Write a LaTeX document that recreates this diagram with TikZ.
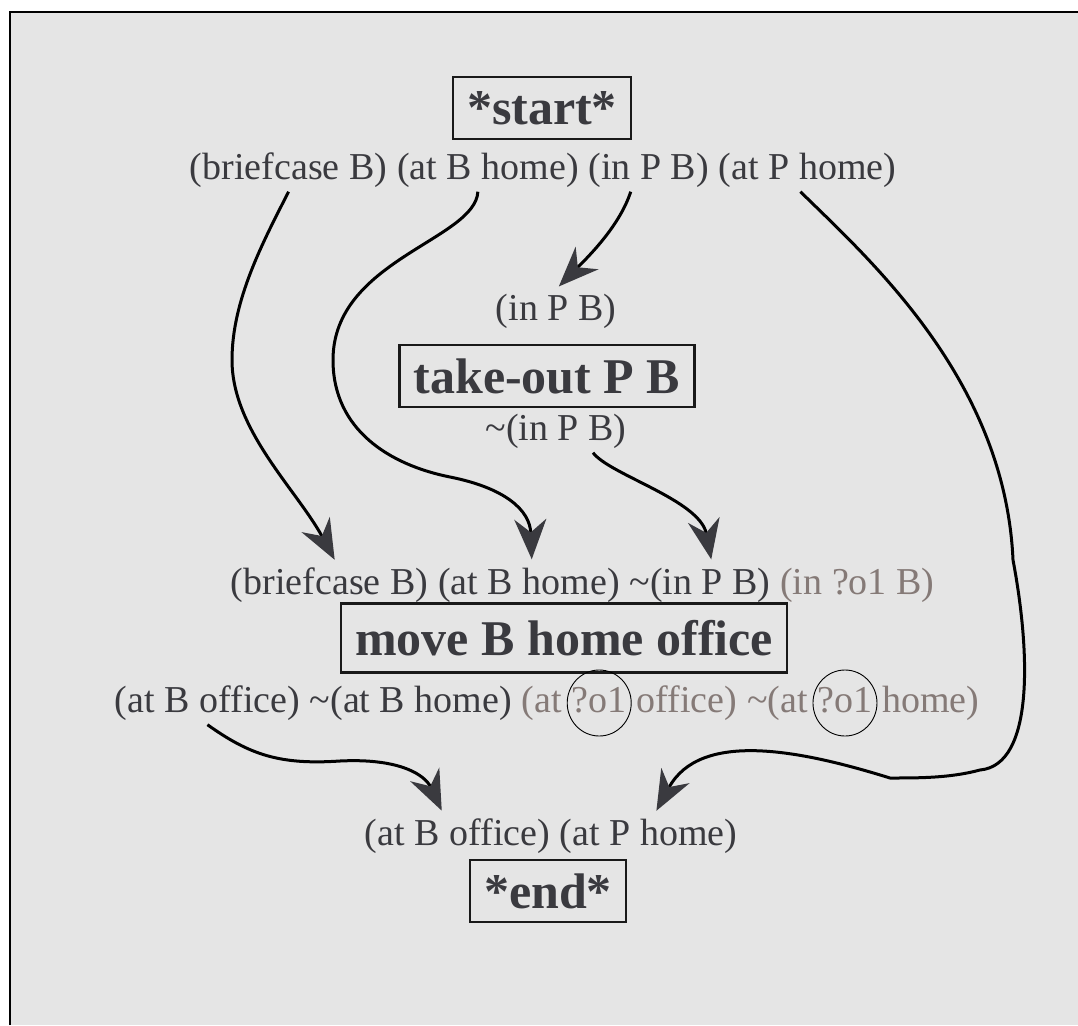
\documentclass[tikz,border=0pt]{standalone}
\usepackage{fontspec}
\setmainfont{Liberation Serif}
\usetikzlibrary{arrows.meta, shapes.geometric, positioning}
\definecolor{paper}{HTML}{E5E5E5}
\definecolor{ink}{HTML}{3A3A3F}
\definecolor{varink}{HTML}{857A77}
\newcommand{\factfont}{\fontsize{38}{44}\selectfont}
\newcommand{\opfont}{\fontsize{50}{58}\selectfont\bfseries}
\tikzset{
    fact/.style={font=\factfont, text=ink, inner xsep=4.75pt, inner ysep=4pt, text height=27pt, text depth=8pt},
    varfact/.style={fact, text=varink},
    opBox/.style={draw=black!90, line width=2.5pt, font=\opfont, text=ink, inner xsep=14pt, inner ysep=0pt, minimum height=62pt},
    ring/.style={ellipse, draw=black, line width=0.9pt, inner sep=0pt, minimum width=64pt, minimum height=66pt},
    link/.style={-{Stealth[length=40pt, width=32pt, inset=13pt, color=ink]}, line width=3pt, shorten >=4pt},
}

\begin{document}
\begin{tikzpicture}[x=1pt, y=-1pt]
    \useasboundingbox (0,0) rectangle (1078,1025);
    \fill[paper] (10,12) rectangle (1078,1025);
    \draw[line width=2pt] (10,1025) -- (10,12) -- (1078,12);

    % start
    \node[opBox] (start) at (542,108) {*start*};
    \node[fact, anchor=west] (s1) at (185,170) {(briefcase B)};
    \node[fact, right=0pt of s1] (s2) {(at B home)};
    \node[fact, right=0pt of s2] (s3) {(in P B)};
    \node[fact, right=0pt of s3] (s4) {(at P home)};

    % take-out P B
    \node[fact] (tpre) at (556,311) {(in P B)};
    \node[opBox] (take) at (547,376) {take-out P B};
    \node[fact] (tpost) at (556,431) {\textasciitilde(in P B)};

    % move B home office
    \node[fact, anchor=west] (m1) at (226,585) {(briefcase B)};
    \node[fact, right=0pt of m1] (m2) {(at B home)};
    \node[fact, right=0pt of m2] (m3) {\textasciitilde(in P B)};
    \node[varfact, right=0pt of m3] (m4) {(in ?o1 B)};
    \node[opBox, minimum height=69pt] (move) at (564,638) {move B home office};
    \node[fact, anchor=west] (e1) at (110,703) {(at B office)};
    \node[fact, right=0pt of e1] (e2) {\textasciitilde(at B home)};
    \node[varfact, right=0pt of e2] (e3) {(at};
    \node[varfact, right=0pt of e3] (o1) {?o1};
    \node[varfact, right=0pt of o1] (e4) {office)};
    \node[varfact, right=0pt of e4] (e5) {\textasciitilde(at};
    \node[varfact, right=0pt of e5] (o2) {?o1};
    \node[varfact, right=0pt of o2] (e6) {home)};
    \node[ring] (r1) at (o1) {};
    \node[ring] (r2) at (o2) {};

    % end
    \node[fact, anchor=west] (f1) at (360,836) {(at B office)};
    \node[fact, right=0pt of f1] (f2) {(at P home)};
    \node[opBox] (finish) at (548,891) {*end*};

    % links
    \draw[link] (s1.south) .. controls (263,242) and (232,300) .. (232,360)
        .. controls (232,430) and (297,490) .. ([xshift=7pt]m1.north);
    \draw[link] ([xshift=-10pt]s2.south) .. controls (475,240) and (333,260) .. (333,360)
        .. controls (333,430) and (390,465) .. (450,477)
        .. controls (505,488) and (530,510) .. ([xshift=3pt]m2.north);
    \draw[link] ([xshift=-18pt]s3.south) .. controls (620,225) and (590,255) .. (tpre.north);
    \draw[link] ([xshift=-7pt]s4.south) .. controls (870,260) and (1005,380) .. (1013,560)
        .. controls (1030,650) and (1035,765) .. (980,770)
        .. controls (950,778) and (920,778) .. (890,778)
        .. controls (800,750) and (700,730) .. ([xshift=6pt]f2.north);
    \draw[link] ([xshift=37pt]tpost.south) .. controls (610,475) and (700,500) .. ([xshift=12pt]m3.north);
    \draw[link] (e1.south) .. controls (250,755) and (280,765) .. (340,761)
        .. controls (400,758) and (425,775) .. ([xshift=-14pt]f1.north);
\end{tikzpicture}
\end{document}
